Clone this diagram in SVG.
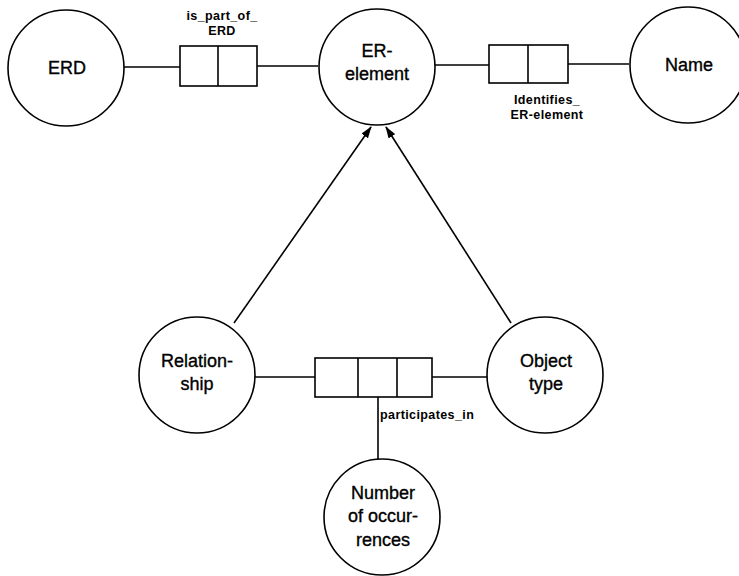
<svg xmlns="http://www.w3.org/2000/svg" width="739" height="576" viewBox="0 0 739 576">
<style>
.n{fill:#fff;stroke:#000;stroke-width:1.6}
.t{font-family:"Liberation Sans",Arial,sans-serif;font-size:18px;fill:#000;text-anchor:middle;stroke:#000;stroke-width:0.35}
.s{font-family:"Liberation Sans",Arial,sans-serif;font-size:12.5px;font-weight:bold;fill:#000;text-anchor:middle;letter-spacing:0.4px}
.c{stroke:#000;stroke-width:1.6;fill:none}
.b{fill:#fff;stroke:#000;stroke-width:1.6}
</style>
<defs>
<marker id="ah" markerWidth="12" markerHeight="8" refX="11" refY="4" orient="auto" markerUnits="userSpaceOnUse">
<path d="M0,0 L12,4 L0,8 Z" fill="#000"/>
</marker>
</defs>
<g id="connectors">
<line class="c" x1="124" y1="67" x2="180" y2="67"/>
<line class="c" x1="257" y1="66" x2="318" y2="66"/>
<line class="c" x1="435" y1="65" x2="489" y2="65"/>
<line class="c" x1="568" y1="64" x2="629" y2="64"/>
<line class="c" x1="254" y1="377" x2="315" y2="377"/>
<line class="c" x1="432" y1="377" x2="487" y2="377"/>
<line class="c" x1="378" y1="397" x2="378" y2="460"/>
<line class="c" x1="234" y1="323" x2="371" y2="127" marker-end="url(#ah)"/>
<line class="c" x1="511" y1="323" x2="386" y2="127" marker-end="url(#ah)"/>
</g>
<g id="is_part_of_ERD">
<rect class="b" x="180" y="46" width="77" height="40"/>
<line class="c" x1="218" y1="46" x2="218" y2="86"/>
<text class="s" x="222" y="20">is_part_of_</text>
<text class="s" x="222" y="35">ERD</text>
</g>
<g id="identifies_ER-element">
<rect class="b" x="489" y="45" width="79" height="38"/>
<line class="c" x1="528" y1="45" x2="528" y2="83"/>
<text class="s" x="547" y="104">Identifies_</text>
<text class="s" x="547" y="119">ER-element</text>
</g>
<g id="participates_in">
<rect class="b" x="315" y="358" width="117" height="39"/>
<line class="c" x1="358" y1="358" x2="358" y2="397"/>
<line class="c" x1="397" y1="358" x2="397" y2="397"/>
<text class="s" x="380" y="419" style="text-anchor:start">participates_in</text>
</g>
<g id="ERD">
<circle class="n" cx="66" cy="68" r="58"/>
<text class="t" x="67" y="74">ERD</text>
</g>
<g id="ER-element">
<circle class="n" cx="377" cy="67" r="58"/>
<text class="t" x="377" y="57">ER-</text>
<text class="t" x="377" y="80">element</text>
</g>
<g id="Name">
<circle class="n" cx="688" cy="65" r="58"/>
<text class="t" x="689" y="71">Name</text>
</g>
<g id="Relationship">
<circle class="n" cx="197" cy="375" r="58"/>
<text class="t" x="197" y="367">Relation-</text>
<text class="t" x="197" y="390">ship</text>
</g>
<g id="Object_type">
<circle class="n" cx="545" cy="375" r="58"/>
<text class="t" x="546" y="367">Object</text>
<text class="t" x="546" y="390">type</text>
</g>
<g id="Number_of_occurrences">
<circle class="n" cx="382" cy="517" r="58"/>
<text class="t" x="383" y="499">Number</text>
<text class="t" x="383" y="522">of occur-</text>
<text class="t" x="383" y="546">rences</text>
</g>
</svg>
